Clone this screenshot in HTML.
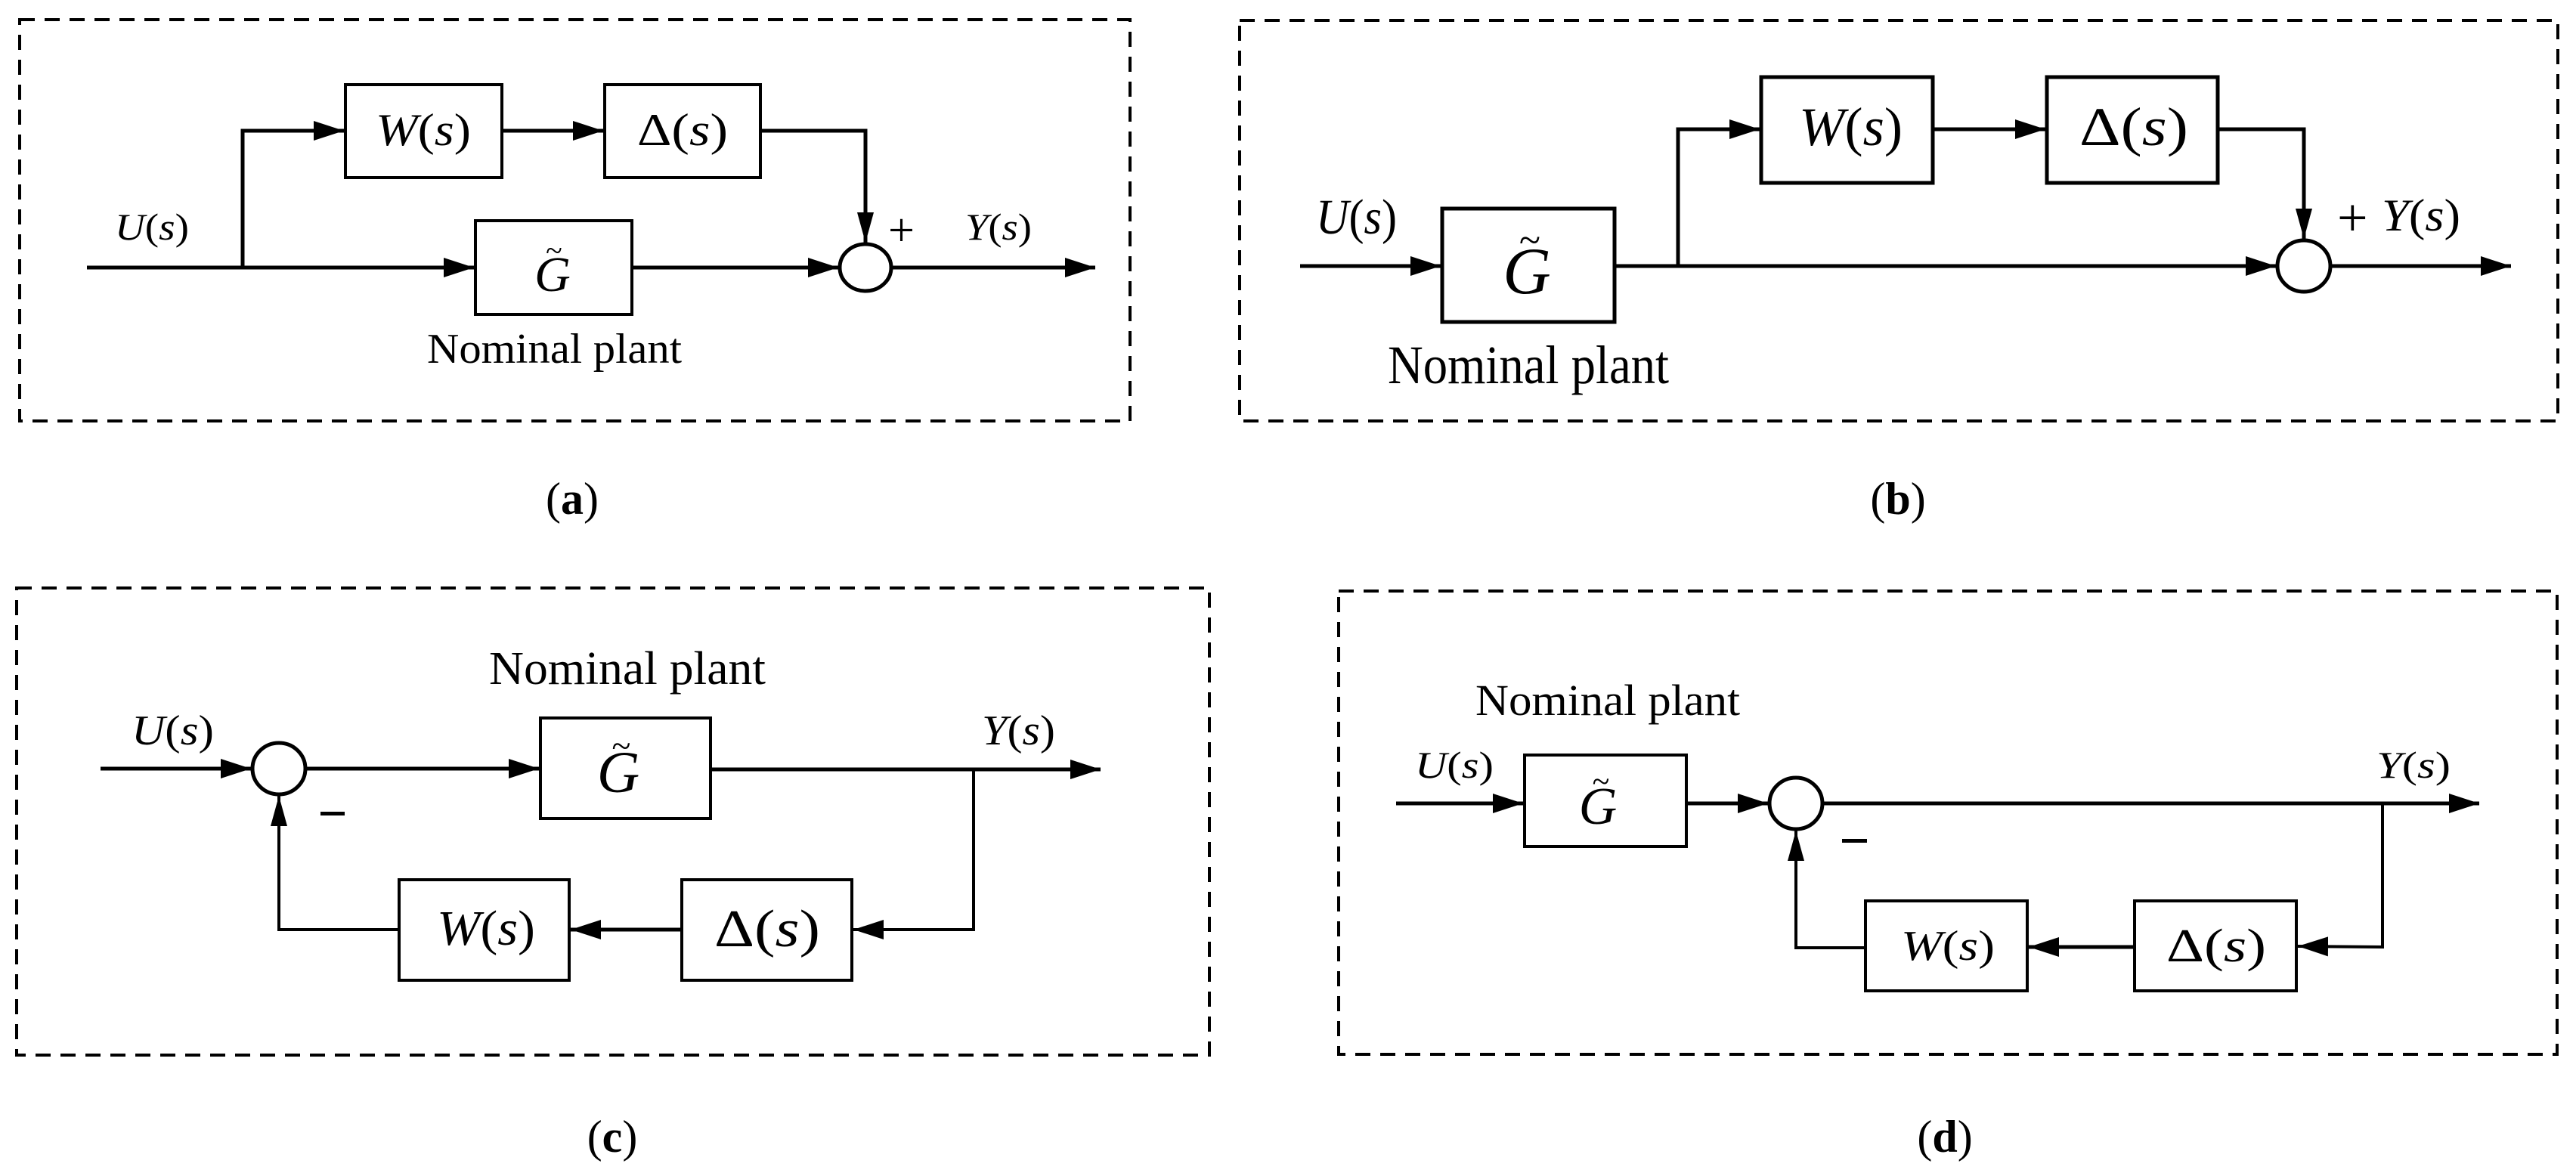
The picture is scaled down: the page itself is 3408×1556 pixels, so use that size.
<!DOCTYPE html>
<html><head><meta charset="utf-8"><style>
html,body{margin:0;padding:0;background:#fff;}
svg{display:block;}
text{font-family:"Liberation Serif",serif;fill:#000;}
.i{font-style:italic;}
.lbl{font-weight:bold;}
</style></head><body>
<svg width="3408" height="1556" viewBox="0 0 3408 1556" xmlns="http://www.w3.org/2000/svg">
<defs>
<marker id="ar" markerUnits="userSpaceOnUse" markerWidth="42" markerHeight="28" refX="40" refY="13" orient="auto">
<path d="M0,0 L40,13 L0,26 z" fill="#000"/></marker>
<marker id="ar2" markerUnits="userSpaceOnUse" markerWidth="42" markerHeight="28" refX="40" refY="11" orient="auto">
<path d="M0,0 L40,11 L0,22 z" fill="#000"/></marker>
</defs>
<g fill="none" stroke="#000" stroke-width="4" stroke-dasharray="20 13">
<rect x="26" y="26" width="1469" height="531"/>
<rect x="1640" y="27" width="1744" height="530"/>
<rect x="22" y="778" width="1578" height="618"/>
<rect x="1771" y="782" width="1612" height="613"/>
</g>

<!-- (a) -->
<g fill="none" stroke="#000" stroke-width="5">
<rect x="457" y="112" width="207" height="123" stroke-width="4"/>
<rect x="800" y="112" width="206" height="123" stroke-width="4"/>
<rect x="629" y="292" width="207" height="124" stroke-width="4"/>
<ellipse cx="1145" cy="354" rx="34" ry="31"/>
<line x1="115" y1="354" x2="627" y2="354" marker-end="url(#ar)"/>
<polyline points="321,354 321,173 455,173" marker-end="url(#ar)"/>
<line x1="664" y1="173" x2="798" y2="173" marker-end="url(#ar)"/>
<polyline points="1006,173 1145,173 1145,321" marker-end="url(#ar2)"/>
<line x1="836" y1="354" x2="1109" y2="354" marker-end="url(#ar)"/>
<line x1="1179" y1="354" x2="1449" y2="354" marker-end="url(#ar)"/>
</g>
<text x="497" y="192" font-size="60" textLength="126" lengthAdjust="spacingAndGlyphs"><tspan class="i">W</tspan>(<tspan class="i">s</tspan>)</text>
<text x="843" y="192" font-size="60" textLength="120" lengthAdjust="spacingAndGlyphs">Δ(<tspan class="i">s</tspan>)</text>
<text x="731" y="385" font-size="66" class="i" text-anchor="middle">G</text>
<text x="733" y="345" font-size="40" text-anchor="middle">~</text>
<text x="152" y="317" font-size="50" textLength="98" lengthAdjust="spacingAndGlyphs"><tspan class="i">U</tspan>(<tspan class="i">s</tspan>)</text>
<text x="1277" y="317" font-size="50" textLength="88" lengthAdjust="spacingAndGlyphs"><tspan class="i">Y</tspan>(<tspan class="i">s</tspan>)</text>
<text x="1175" y="325" font-size="62">+</text>
<text x="565" y="480" font-size="56" textLength="337" lengthAdjust="spacingAndGlyphs">Nominal plant</text>
<text x="757" y="680" font-size="60" text-anchor="middle">(<tspan class="lbl">a</tspan>)</text>

<!-- (b) -->
<g fill="none" stroke="#000" stroke-width="5">
<rect x="1908" y="276" width="228" height="150"/>
<rect x="2330" y="102" width="227" height="140"/>
<rect x="2708" y="102" width="226" height="140"/>
<ellipse cx="3048" cy="352" rx="35" ry="34"/>
<line x1="1720" y1="352" x2="1906" y2="352" marker-end="url(#ar)"/>
<line x1="2136" y1="352" x2="3011" y2="352" marker-end="url(#ar)"/>
<polyline points="2220,352 2220,171 2328,171" marker-end="url(#ar)"/>
<line x1="2557" y1="171" x2="2706" y2="171" marker-end="url(#ar)"/>
<polyline points="2934,171 3048,171 3048,316" marker-end="url(#ar2)"/>
<line x1="3083" y1="352" x2="3322" y2="352" marker-end="url(#ar)"/>
</g>
<text x="2380" y="192" font-size="72" textLength="137" lengthAdjust="spacingAndGlyphs"><tspan class="i">W</tspan>(<tspan class="i">s</tspan>)</text>
<text x="2751" y="192" font-size="72" textLength="144" lengthAdjust="spacingAndGlyphs">Δ(<tspan class="i">s</tspan>)</text>
<text x="2020" y="388" font-size="88" class="i" text-anchor="middle">G</text>
<text x="2024" y="335" font-size="52" text-anchor="middle">~</text>
<text x="1741" y="309" font-size="66" textLength="107" lengthAdjust="spacingAndGlyphs"><tspan class="i">U</tspan>(<tspan class="i">s</tspan>)</text>
<text x="3151" y="305" font-size="60" textLength="104" lengthAdjust="spacingAndGlyphs"><tspan class="i">Y</tspan>(<tspan class="i">s</tspan>)</text>
<text x="3092" y="312" font-size="72">+</text>
<text x="1836" y="507" font-size="72" textLength="372" lengthAdjust="spacingAndGlyphs">Nominal plant</text>
<text x="2511" y="680" font-size="60" text-anchor="middle">(<tspan class="lbl">b</tspan>)</text>

<!-- (c) -->
<g fill="none" stroke="#000" stroke-width="5">
<rect x="715" y="950" width="225" height="133" stroke-width="4"/>
<rect x="528" y="1164" width="225" height="133" stroke-width="4"/>
<rect x="902" y="1164" width="225" height="133" stroke-width="4"/>
<ellipse cx="369" cy="1017" rx="35" ry="34"/>
<line x1="133" y1="1017" x2="332" y2="1017" marker-end="url(#ar)"/>
<line x1="404" y1="1017" x2="713" y2="1017" marker-end="url(#ar)"/>
<line x1="940" y1="1018" x2="1456" y2="1018" marker-end="url(#ar)"/>
<polyline points="1288,1018 1288,1230 1129,1230" marker-end="url(#ar)" stroke-width="4"/>
<line x1="902" y1="1230" x2="755" y2="1230" marker-end="url(#ar)"/>
<polyline points="528,1230 369,1230 369,1053" marker-end="url(#ar2)" stroke-width="4"/>
</g>
<text x="578" y="1250" font-size="66" textLength="130" lengthAdjust="spacingAndGlyphs"><tspan class="i">W</tspan>(<tspan class="i">s</tspan>)</text>
<text x="945" y="1252" font-size="70" textLength="140" lengthAdjust="spacingAndGlyphs">Δ(<tspan class="i">s</tspan>)</text>
<text x="818" y="1048" font-size="78" class="i" text-anchor="middle">G</text>
<text x="822" y="1002" font-size="46" text-anchor="middle">~</text>
<text x="174" y="985" font-size="56" textLength="109" lengthAdjust="spacingAndGlyphs"><tspan class="i">U</tspan>(<tspan class="i">s</tspan>)</text>
<text x="1299" y="985" font-size="56" textLength="97" lengthAdjust="spacingAndGlyphs"><tspan class="i">Y</tspan>(<tspan class="i">s</tspan>)</text>
<rect x="424" y="1074" width="32" height="5" fill="#000"/>
<text x="647" y="905" font-size="62" textLength="366" lengthAdjust="spacingAndGlyphs">Nominal plant</text>
<text x="810" y="1524" font-size="60" text-anchor="middle">(<tspan class="lbl">c</tspan>)</text>

<!-- (d) -->
<g fill="none" stroke="#000" stroke-width="5">
<rect x="2017" y="999" width="214" height="121" stroke-width="4"/>
<rect x="2468" y="1192" width="214" height="119" stroke-width="4"/>
<rect x="2824" y="1192" width="214" height="119" stroke-width="4"/>
<ellipse cx="2376" cy="1063" rx="35" ry="34"/>
<line x1="1847" y1="1063" x2="2015" y2="1063" marker-end="url(#ar)"/>
<line x1="2231" y1="1063" x2="2339" y2="1063" marker-end="url(#ar)"/>
<line x1="2411" y1="1063" x2="3280" y2="1063" marker-end="url(#ar)"/>
<polyline points="3152,1063 3152,1253 3040,1252" marker-end="url(#ar)" stroke-width="4"/>
<line x1="2824" y1="1253" x2="2684" y2="1253" marker-end="url(#ar)"/>
<polyline points="2468,1254 2376,1254 2376,1099" marker-end="url(#ar2)" stroke-width="4"/>
</g>
<text x="2515" y="1270" font-size="56" textLength="124" lengthAdjust="spacingAndGlyphs"><tspan class="i">W</tspan>(<tspan class="i">s</tspan>)</text>
<text x="2866" y="1272" font-size="62" textLength="132" lengthAdjust="spacingAndGlyphs">Δ(<tspan class="i">s</tspan>)</text>
<text x="2114" y="1090" font-size="70" class="i" text-anchor="middle">G</text>
<text x="2118" y="1048" font-size="42" text-anchor="middle">~</text>
<text x="1872" y="1029" font-size="50" textLength="104" lengthAdjust="spacingAndGlyphs"><tspan class="i">U</tspan>(<tspan class="i">s</tspan>)</text>
<text x="3144" y="1029" font-size="50" textLength="98" lengthAdjust="spacingAndGlyphs"><tspan class="i">Y</tspan>(<tspan class="i">s</tspan>)</text>
<rect x="2437" y="1110" width="33" height="5" fill="#000"/>
<text x="1952" y="946" font-size="58" textLength="350" lengthAdjust="spacingAndGlyphs">Nominal plant</text>
<text x="2573" y="1524" font-size="60" text-anchor="middle">(<tspan class="lbl">d</tspan>)</text>
</svg>
</body></html>
